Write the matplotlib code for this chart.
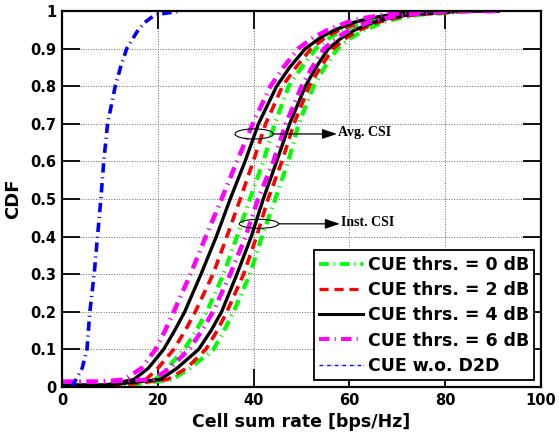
import matplotlib
matplotlib.use('Agg')
import matplotlib.pyplot as plt
from matplotlib.patches import Ellipse

# CDF levels shared by the D2D curves
cdf = [0.02, 0.05, 0.1, 0.15, 0.2, 0.3, 0.4, 0.5, 0.6, 0.7, 0.8, 0.85, 0.9, 0.93,
       0.95, 0.97, 0.98, 0.99, 1.0]

# rate [bps/Hz] at each CDF level, averaged CSI
avg_0dB = [19.5, 21.9, 25.5, 28.0, 30.2, 33.7, 36.5, 39.2, 42.0, 44.4, 47.3, 50.0, 53.0, 56.0, 59.0, 63.0, 66.0, 70.5, 80.0]
avg_2dB = [17.5, 20.0, 23.3, 25.7, 27.8, 31.5, 34.4, 37.2, 39.9, 42.5, 46.0, 48.8, 52.0, 55.0, 58.0, 62.0, 65.0, 69.5, 79.0]
avg_4dB = [15.0, 18.0, 21.2, 23.5, 25.6, 29.0, 32.2, 35.1, 38.2, 41.0, 44.8, 47.5, 50.8, 54.0, 57.0, 61.0, 64.0, 68.5, 78.0]
avg_6dB = [13.0, 16.6, 19.5, 21.5, 23.3, 26.8, 30.0, 33.3, 36.5, 39.8, 43.5, 46.2, 49.3, 52.5, 55.5, 59.5, 62.5, 67.0, 76.0]

# instantaneous CSI
inst_0dB = [23.0, 26.7, 31.6, 33.8, 35.8, 39.2, 41.7, 44.5, 47.2, 49.4, 52.5, 54.8, 57.5, 60.5, 63.3, 67.0, 70.0, 74.5, 86.0]
inst_2dB = [22.0, 26.0, 30.0, 32.4, 34.4, 37.9, 40.6, 43.0, 45.9, 48.4, 51.6, 53.9, 56.6, 59.5, 62.2, 66.0, 69.0, 73.5, 85.0]
inst_4dB = [20.5, 24.0, 28.5, 31.1, 33.3, 36.5, 39.5, 42.0, 44.8, 47.5, 50.8, 53.0, 55.6, 58.5, 61.2, 65.0, 68.0, 72.5, 84.0]
inst_6dB = [19.0, 22.5, 26.5, 29.2, 31.5, 35.1, 38.3, 40.9, 44.1, 46.7, 50.0, 52.2, 54.7, 57.5, 60.1, 64.0, 67.0, 71.5, 82.0]

# low tail (outage floor) and where it ends, per threshold
floor_y = {'0 dB': 0.002, '2 dB': 0.003, '4 dB': 0.005, '6 dB': 0.014}
floor_x = {'0 dB': 12, '2 dB': 11, '4 dB': 9, '6 dB': 8}
x_end = 91

# no D2D reference
nod2d_x = [2.0, 3.1, 4.2, 5.2, 5.8, 6.7, 7.4, 8.1, 8.7, 9.5, 11.1, 12.2, 13.5, 15.9, 17.3, 19.4, 25.0]
nod2d_y = [0.0, 0.024, 0.05, 0.1, 0.2, 0.3, 0.4, 0.5, 0.6, 0.7, 0.8, 0.85, 0.9, 0.95, 0.97, 0.99, 1.0]

dashdot = (2.6, 1.3, 0.3, 1.3)
styles = {
    '0 dB': dict(color=(0, 1, 0), lw=3, dashes=dashdot),
    '2 dB': dict(color='red', lw=2.6, dashes=(2.8, 1.8)),
    '4 dB': dict(color='black', lw=2.4, ls='-'),
    '6 dB': dict(color='magenta', lw=3.2, dashes=dashdot),
}
curves = {
    '0 dB': (avg_0dB, inst_0dB),
    '2 dB': (avg_2dB, inst_2dB),
    '4 dB': (avg_4dB, inst_4dB),
    '6 dB': (avg_6dB, inst_6dB),
}

fig = plt.figure(figsize=(5.59, 4.38), dpi=100)
ax = fig.add_axes([0.111, 0.1164, 0.857, 0.8585])

for key in ['0 dB', '2 dB', '4 dB', '6 dB']:
    for i, xs in enumerate(curves[key]):
        x = [0, floor_x[key]] + xs + [x_end]
        y = [floor_y[key], floor_y[key]] + cdf + [1.0]
        ax.plot(x, y, label=f'CUE thrs. = {key}' if i == 0 else None, **styles[key])

ax.plot(nod2d_x, nod2d_y, color='blue', lw=2.6, dashes=dashdot, label='CUE w.o. D2D')

ax.set_xlim(0, 100)
ax.set_ylim(0, 1)
ax.set_xticks(range(0, 101, 20))
ax.set_yticks([i / 10 for i in range(11)])
ax.set_yticklabels(['0'] + [f'{i / 10:g}' for i in range(1, 10)] + ['1'])
ax.grid(True, ls=':', color='0.4', lw=0.7)
ax.tick_params(direction='in', length=13, width=1.3, top=True, right=True,
               labelsize=10.5, pad=4)
for lbl in ax.get_xticklabels() + ax.get_yticklabels():
    lbl.set_fontweight('bold')
for sp in ax.spines.values():
    sp.set_linewidth(1.6)

ax.set_xlabel('Cell sum rate [bps/Hz]', fontsize=12.5, fontweight='bold', labelpad=4)
ax.set_ylabel('CDF', fontsize=13, fontweight='bold', labelpad=6)

# annotations
serif = dict(family='Liberation Serif', fontsize=10, fontweight='bold')
arrow = dict(arrowstyle='-|>,head_length=0.9,head_width=0.3', lw=0.9,
             color='black', shrinkA=0, shrinkB=0)
ax.add_patch(Ellipse((40.1, 0.673), 8.0, 0.027, fill=False, lw=0.8, zorder=5))
ax.annotate('', xy=(57.4, 0.673), xytext=(44.1, 0.673), arrowprops=arrow, zorder=5)
ax.text(57.7, 0.676, 'Avg. CSI', va='center', ha='left', **serif)

ax.add_patch(Ellipse((41.1, 0.434), 8.2, 0.024, fill=False, lw=0.8, zorder=5))
ax.annotate('', xy=(58.0, 0.434), xytext=(45.2, 0.434), arrowprops=arrow, zorder=5)
ax.text(58.3, 0.437, 'Inst. CSI', va='center', ha='left', **serif)

leg = ax.legend(loc='lower right', handlelength=2.5, handletextpad=0.3,
                borderpad=0.3, labelspacing=0.42, borderaxespad=0.4,
                fancybox=False, edgecolor='black', framealpha=1,
                prop=dict(weight='bold', size=12.5))
leg.get_frame().set_linewidth(1.3)
leg.get_lines()[4].set_linewidth(1.0)
for ln in leg.get_lines()[:4]:
    ln.set_linewidth(ln.get_linewidth() * 0.9)

fig.savefig('out.png', dpi=100)
